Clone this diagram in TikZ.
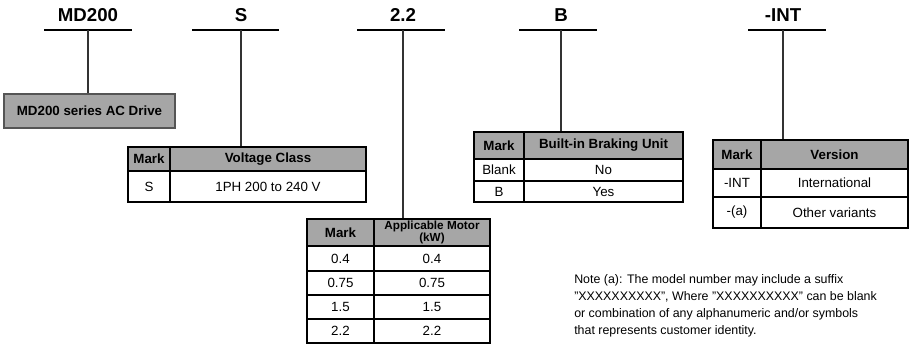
\documentclass[tikz,border=0pt]{standalone}
\usepackage{fontspec}
\setmainfont{Liberation Sans}
\usetikzlibrary{fit}
\definecolor{hdrgray}{HTML}{A6A6A6}
\definecolor{boxedge}{HTML}{555555}
\newcommand\cell[7]{%
  \path (#2,#3) coordinate (#1-nw) (#4,#5) coordinate (#1-se);
  \node[#6, fit=(#1-nw)(#1-se), inner sep=0pt] (#1) {};
  \node[#6, draw=none, fill=none, inner sep=0pt] (#1-t) at (#1.center) {#7};}
\tikzset{
  title/.style={anchor=base, font=\fontsize{14pt}{16pt}\selectfont\bfseries},
  uline/.style={line width=1.5pt, black},
  conn/.style={line width=0.8pt, black!80},
  hcell/.style={draw=black, line width=1pt, fill=hdrgray, font=\fontsize{10pt}{12pt}\selectfont\bfseries},
  bcell/.style={draw=black, line width=1pt, fill=white, font=\fontsize{10pt}{12pt}\selectfont},
  graybox/.style={draw=boxedge, line width=0.8pt, fill=hdrgray, font=\fontsize{10pt}{12pt}\selectfont\bfseries},
}
\begin{document}
\begin{tikzpicture}[x=0.75pt, y=-0.75pt]
\useasboundingbox (0,0) rectangle (913,350);
% titles and underlines
\node[title] (t1) at (88,21) {MD200};
\node[title] (t2) at (241,21) {S};
\node[title] (t3) at (403,21) {2.2};
\node[title] (t4) at (561,21) {B};
\node[title] (t5) at (783,21) {-INT};
\draw[uline] (44,30) -- (132,30); \coordinate (u1) at (88,30);
\draw[uline] (192,30) -- (279,30); \coordinate (u2) at (241,30);
\draw[uline] (357,30) -- (445,30); \coordinate (u3) at (403,30);
\draw[uline] (519,30) -- (597,30); \coordinate (u4) at (561,30);
\draw[uline] (748,30) -- (826,30); \coordinate (u5) at (783,30);
% MD200 box
\cell{md}{4}{94}{175}{128}{graybox}{MD200 series AC Drive}
% Voltage table
\cell{va0}{128}{147}{170}{171}{hcell}{Mark}
\cell{vb0}{170}{147}{366}{171}{hcell}{Voltage Class}
\cell{va1}{128}{171}{170}{202}{bcell}{S}
\cell{vb1}{170}{171}{366}{202}{bcell}{1PH 200 to 240 V}
% Motor table
\cell{ma0}{307}{219}{374}{246}{hcell}{Mark}
\cell{mb0}{374}{219}{490}{246}{hcell,align=center,font=\fontsize{8.8pt}{7.5pt}\selectfont\bfseries}{Applicable Motor\\(kW)}
\cell{ma1}{307}{246}{374}{271}{bcell}{0.4}
\cell{mb1}{374}{246}{490}{271}{bcell}{0.4}
\cell{ma2}{307}{271}{374}{295}{bcell}{0.75}
\cell{mb2}{374}{271}{490}{295}{bcell}{0.75}
\cell{ma3}{307}{295}{374}{319}{bcell}{1.5}
\cell{mb3}{374}{295}{490}{319}{bcell}{1.5}
\cell{ma4}{307}{319}{374}{343}{bcell}{2.2}
\cell{mb4}{374}{319}{490}{343}{bcell}{2.2}
% Braking table
\cell{ba0}{474}{132}{524}{159}{hcell}{Mark}
\cell{bb0}{524}{132}{683}{159}{hcell}{Built-in Braking Unit}
\cell{ba1}{474}{159}{524}{181}{bcell}{Blank}
\cell{bb1}{524}{159}{683}{181}{bcell}{No}
\cell{ba2}{474}{181}{524}{202}{bcell}{B}
\cell{bb2}{524}{181}{683}{202}{bcell}{Yes}
% Version table
\cell{ea0}{713}{140}{761}{169}{hcell}{Mark}
\cell{eb0}{761}{140}{908}{169}{hcell}{Version}
\cell{ea1}{713}{169}{761}{197}{bcell}{-INT}
\cell{eb1}{761}{169}{908}{197}{bcell}{International}
\cell{ea2}{713}{197}{761}{228}{bcell}{-(a)}
\cell{eb2}{761}{197}{908}{228}{bcell}{Other variants}
% connectors
\draw[conn] (u1) -- (u1 |- md.north);
\draw[conn] (u2) -- (u2 |- vb0.north);
\draw[conn] (u3) -- (u3 |- mb0.north);
\draw[conn] (u4) -- (u4 |- bb0.north);
\draw[conn] (u5) -- (u5 |- eb0.north);
% note
\node[anchor=north west, align=left, inner sep=0pt, font=\fontsize{9.3pt}{12.8pt}\selectfont] (note) at (574,274)
{Note (a): The model number may include a suffix\\
"XXXXXXXXXX", Where "XXXXXXXXXX" can be blank\\
or combination of any alphanumeric and/or symbols\\
that represents customer identity.};
\end{tikzpicture}
\end{document}
